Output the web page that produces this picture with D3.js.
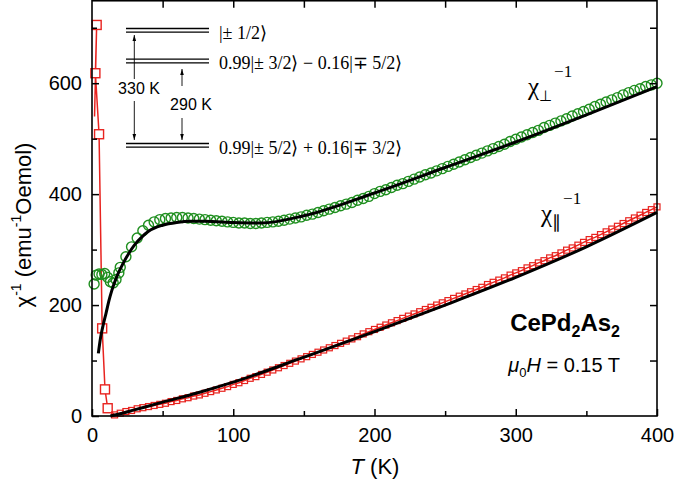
<!DOCTYPE html>
<html><head><meta charset="utf-8">
<script src="https://cdn.jsdelivr.net/npm/d3@7"></script>
<style>body{margin:0;background:#fff}svg{display:block}</style>
</head><body>
<script>
// ---------- data ----------
const xTicksMajor = [0,100,200,300,400];
const yTicksMajor = [0,200,400,600];
// chi_perp^-1 (green circles) low-T points
const perpLowT   = [1.5,3,5,7,9,11,13,15,17,19];
const perpLowChi = [238,254,256,255,257,250,242,240,246,258];
// chi_perp^-1 regular grid
const perpT = [20,24,28,32,36,40,44,48,52,56,60,64,68,72,76,80,84,88,92,96,100,104,108,112,116,120,124,128,132,136,140,144,148,152,156,160,164,168,172,176,180,184,188,192,196,200,204,208,212,216,220,224,228,232,236,240,244,248,252,256,260,264,268,272,276,280,284,288,292,296,300,304,308,312,316,320,324,328,332,336,340,344,348,352,356,360,364,368,372,376,380,384,388,392,396,400];
const perpChi = [268,287,305,321,334,344,350,354,356,357,358,358,357,356,355,354,353,352,351,350,349,348,348,347,347,348,349,350,351,353,355,357,359,362,364,367,370,373,376,379,382,385,389,392,396,401,405,408,412,416,419,423,427,431,435,438,442,446,450,454,458,462,466,470,474,478,482,486,490,495,499,503,507,511,515,520,524,528,532,536,541,545,549,553,558,562,566,570,574,579,583,587,590,594,597,600];
// chi_par^-1 (red squares) low-T points (in measured order)
const parLowT   = [1.8,3.3,2.4,5,7.2,9.2,11.1];
const parLowChi = [540,705,618,508,158,48,14];
// chi_par^-1 regular grid
const parT = [16,20,24,28,32,36,40,44,48,52,56,60,64,68,72,76,80,84,88,92,96,100,104,108,112,116,120,124,128,132,136,140,144,148,152,156,160,164,168,172,176,180,184,188,192,196,200,204,208,212,216,220,224,228,232,236,240,244,248,252,256,260,264,268,272,276,280,284,288,292,296,300,304,308,312,316,320,324,328,332,336,340,344,348,352,356,360,364,368,372,376,380,384,388,392,396,400];
const parChi = [2,5,8,10,13,15,17,19,21,23,26,28,31,33,36,38,41,44,47,50,53,57,60,64,68,71,75,79,83,87,91,95,99,103,107,111,115,119,123,127,131,135,139,143,148,152,156,160,164,168,172,176,180,184,188,192,196,200,204,208,212,216,220,224,228,232,237,241,245,249,254,258,262,267,271,276,280,285,289,294,299,303,308,313,318,322,327,332,337,342,347,352,357,362,367,372,377];
// CEF fits (black lines)
const fitPerpT   = [4.5,6,8,10,12,14,18,22,26,30,35,40,50,60,70,80,100,120,150,200,250,300,350,400];
const fitPerpChi = [113,140,165,186,208,226,254,275,293,308,322,333,344,349,351,351,349,348,361,402,448,494,543,594];
const fitParT    = [13,20,30,50,75,100,150,200,250,300,350,400];
const fitParChi  = [0,4,11,25,42,61,106,152,200,250,305,367];
// energy levels (inset)
const levelLabels = ["|\u00B1 1/2\u27E9","0.99|\u00B1 3/2\u27E9 \u2212 0.16|\u2213 5/2\u27E9","0.99|\u00B1 5/2\u27E9 + 0.16|\u2213 3/2\u27E9"];
const gapLabels = ["330 K","290 K"];

// ---------- layout ----------
const W=675,H=481;
const svg=d3.select("body").append("svg").attr("width",W).attr("height",H);
const x=d3.scaleLinear().domain([0,400]).range([92,657]);
const y=d3.scaleLinear().domain([0,750]).range([416,0]);
const red="#e8231f", green="#1f8f1f";
const sans="Liberation Sans, Arial, Helvetica, sans-serif";
const serif="Liberation Serif, Times New Roman, serif";

// data: red
const parAll = parLowT.map((t,i)=>[t,parLowChi[i]]).concat(parT.map((t,i)=>[t,parChi[i]]));
svg.append("path").datum(parAll)
  .attr("d",d3.line().x(d=>x(d[0])).y(d=>y(d[1])))
  .attr("fill","none").attr("stroke",red).attr("stroke-width",1.5);
svg.append("g").selectAll("rect").data(parLowT.slice(1).map((t,i)=>[t,parLowChi[i+1]]))
  .join("rect").attr("x",d=>x(d[0])-4.5).attr("y",d=>y(d[1])-4.5)
  .attr("width",9).attr("height",9).attr("fill","#fff").attr("stroke",red).attr("stroke-width",1.4);
svg.append("g").selectAll("rect").data(parT.map((t,i)=>[t,parChi[i]]))
  .join("rect").attr("x",d=>x(d[0])-3).attr("y",d=>y(d[1])-3)
  .attr("width",6).attr("height",6).attr("fill","none").attr("stroke",red).attr("stroke-width",1.2);

// data: green
const perpAll = perpLowT.map((t,i)=>[t,perpLowChi[i]]).concat(perpT.map((t,i)=>[t,perpChi[i]]));
svg.append("g").selectAll("circle").data(perpAll)
  .join("circle").attr("cx",d=>x(d[0])).attr("cy",d=>y(d[1])).attr("r",5)
  .attr("fill","none").attr("stroke",green).attr("stroke-width",1.4);

// fits
const fl=d3.line().x(d=>x(d[0])).y(d=>y(d[1])).curve(d3.curveMonotoneX);
svg.append("path").datum(fitPerpT.map((t,i)=>[t,fitPerpChi[i]])).attr("d",fl)
  .attr("fill","none").attr("stroke","#000").attr("stroke-width",3);
svg.append("path").datum(fitParT.map((t,i)=>[t,fitParChi[i]])).attr("d",fl)
  .attr("fill","none").attr("stroke","#000").attr("stroke-width",3);

// frame and axes
svg.append("g").attr("transform","translate(0,416)")
  .call(d3.axisBottom(x).tickValues(xTicksMajor).tickSize(-7).tickPadding(12).tickFormat(d3.format("d")));
svg.append("g").attr("transform","translate(0,416)")
  .call(d3.axisBottom(x).tickValues([50,150,250,350]).tickSize(-5).tickFormat(""));
svg.append("g").attr("transform","translate(0,0.75)")
  .call(d3.axisTop(x).tickValues([50,100,150,200,250,300,350]).tickSize(-7).tickFormat(""));
svg.append("g").attr("transform","translate(92,0)")
  .call(d3.axisLeft(y).tickValues(yTicksMajor).tickSize(-7).tickPadding(10).tickFormat(d3.format("d")));
svg.append("g").attr("transform","translate(92,0)")
  .call(d3.axisLeft(y).tickValues([100,300,500,700]).tickSize(-5).tickFormat(""));
svg.append("g").attr("transform","translate(657,0)")
  .call(d3.axisRight(y).tickValues([100,200,300,400,500,600,700]).tickSize(-7).tickFormat(""));
svg.selectAll(".domain").remove();
svg.selectAll(".tick line").attr("stroke","#000").attr("stroke-width",1.5);
svg.selectAll(".tick text").attr("font-family",sans).attr("font-size",20).attr("fill","#000");
svg.append("rect").attr("x",92).attr("y",0.75).attr("width",565).attr("height",415.25)
  .attr("fill","none").attr("stroke","#000").attr("stroke-width",1.6);

// axis titles
const tx=svg.append("text").attr("x",375).attr("y",474).attr("text-anchor","middle")
  .attr("font-family",sans).attr("font-size",22);
tx.append("tspan").attr("font-style","italic").text("T");
tx.append("tspan").text(" (K)");
const ty=svg.append("text").attr("transform","translate(31,225) rotate(-90)").attr("text-anchor","middle")
  .attr("font-family",sans).attr("font-size",22);
ty.append("tspan").text("\u03C7");
ty.append("tspan").attr("font-size",14).attr("dy",-10).text("-1");
ty.append("tspan").attr("dy",10).text(" (emu");
ty.append("tspan").attr("font-size",14).attr("dy",-10).text("-1");
ty.append("tspan").attr("dy",10).text("Oemol)");

// inset levels
const levelY=[30.3,61,145.3];
levelY.forEach((ly,i)=>{
  [-1.8,1.8].forEach(o=>svg.append("line").attr("x1",126).attr("x2",209).attr("y1",ly+o).attr("y2",ly+o)
    .attr("stroke","#000").attr("stroke-width",1.3));
  svg.append("text").attr("x",219).attr("y",[39,69,154][i]).attr("font-family",serif).attr("font-size",18)
    .attr("fill","#000").text(levelLabels[i]);
});
svg.append("defs").append("marker").attr("id","ah").attr("viewBox","0 0 10 10").attr("refX",10).attr("refY",5)
  .attr("markerWidth",7).attr("markerHeight",7).attr("orient","auto-start-reverse")
  .append("path").attr("d","M0,2 L10,5 L0,8 Z").attr("fill","#000");
function arrow(xx,y1,y2){svg.append("line").attr("x1",xx).attr("x2",xx).attr("y1",y1).attr("y2",y2)
  .attr("stroke","#000").attr("stroke-width",0.9).attr("marker-end","url(#ah)");}
arrow(134.3,79,35); arrow(134.3,101,140);
arrow(182,86,69); arrow(182,118,140);
svg.append("text").attr("x",139).attr("y",94).attr("text-anchor","middle").attr("font-family",sans).attr("font-size",16).text(gapLabels[0]);
svg.append("text").attr("x",191).attr("y",110).attr("text-anchor","middle").attr("font-family",sans).attr("font-size",16).text(gapLabels[1]);

// curve labels
function chiLabel(xx,yy,sub,subSize){
  const t=svg.append("text").attr("x",xx).attr("y",yy).attr("font-family",serif).attr("font-size",25);
  t.append("tspan").text("\u03C7");
  t.append("tspan").attr("font-size",subSize).attr("dy",6).text(sub);
  t.append("tspan").attr("font-size",17).attr("dy",-24).attr("dx",2).text("\u22121");
}
chiLabel(528,95,"\u22A5",15);
chiLabel(541,222,"\u2225",18);

// sample label
const s1=svg.append("text").attr("x",620).attr("y",331).attr("text-anchor","end")
  .attr("font-family",sans).attr("font-size",24).attr("font-weight","bold");
s1.append("tspan").text("CePd");
s1.append("tspan").attr("font-size",16).attr("dy",6).text("2");
s1.append("tspan").attr("dy",-6).text("As");
s1.append("tspan").attr("font-size",16).attr("dy",6).text("2");
const s2=svg.append("text").attr("x",620).attr("y",372).attr("text-anchor","end")
  .attr("font-family",sans).attr("font-size",20);
s2.append("tspan").attr("font-style","italic").text("\u03BC");
s2.append("tspan").attr("font-size",13).attr("dy",5).text("0");
s2.append("tspan").attr("font-style","italic").attr("dy",-5).text("H");
s2.append("tspan").text(" = 0.15 T");
</script>
</body></html>
